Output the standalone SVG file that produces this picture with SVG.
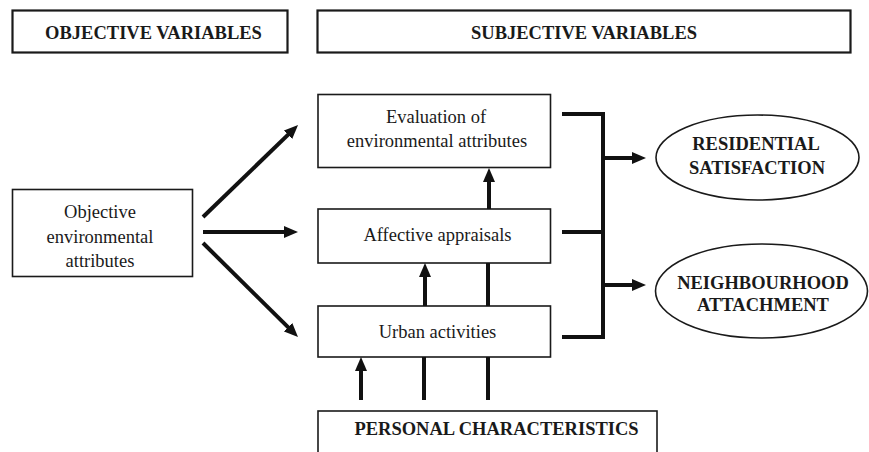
<svg xmlns="http://www.w3.org/2000/svg" width="869" height="452" viewBox="0 0 869 452">
<style>
  .box { fill: #fff; stroke: #1a1a1a; stroke-width: 1.6; }
  .hbox { fill: #fff; stroke: #1a1a1a; stroke-width: 2.2; }
  .t { font-family: "Liberation Serif", "Times New Roman", serif; font-size: 18.5px; fill: #1a1a1a; text-anchor: middle; }
  .b { font-weight: bold; }
  .s { font-size: 17.5px; }
  .c { fill: none; stroke: #111; stroke-width: 4; }
  .a { marker-end: url(#ah); }
</style>
<defs>
  <marker id="ah" markerUnits="userSpaceOnUse" markerWidth="14" markerHeight="12" viewBox="0 0 14 12" refX="6" refY="6" orient="auto">
    <path d="M0,0 L14,6 L0,12 z" fill="#111"/>
  </marker>
</defs>

<g id="objective-variables">
  <rect class="hbox" x="12.5" y="10.5" width="275" height="42"/>
  <text class="t b" x="153.5" y="39">OBJECTIVE VARIABLES</text>
</g>
<g id="subjective-variables">
  <rect class="hbox" x="317.5" y="10.5" width="533" height="42"/>
  <text class="t b" x="584" y="39">SUBJECTIVE VARIABLES</text>
</g>

<g id="objective-attributes">
  <rect class="box" x="12.5" y="189.5" width="180" height="87"/>
  <text class="t" x="100" y="218">Objective</text>
  <text class="t" x="100" y="243">environmental</text>
  <text class="t" x="100" y="267">attributes</text>
</g>

<g id="evaluation">
  <rect class="box" x="318" y="94.5" width="232.5" height="73"/>
  <text class="t" x="436" y="123">Evaluation of</text>
  <text class="t" x="437" y="147">environmental attributes</text>
</g>

<g id="affective">
  <rect class="box" x="318" y="209" width="232.5" height="54"/>
  <text class="t" x="437.5" y="241">Affective appraisals</text>
</g>

<g id="urban">
  <rect class="box" x="318" y="306" width="232.5" height="51"/>
  <text class="t" x="437.5" y="338">Urban activities</text>
</g>

<g id="personal">
  <rect class="box" x="318" y="411" width="339" height="45"/>
  <text class="t b" x="496.5" y="435">PERSONAL CHARACTERISTICS</text>
</g>

<g id="residential-satisfaction">
  <ellipse class="box" cx="757.5" cy="157.5" rx="101.5" ry="42.5"/>
  <text class="t b" x="756" y="150">RESIDENTIAL</text>
  <text class="t b" x="757" y="174">SATISFACTION</text>
</g>

<g id="neighbourhood-attachment">
  <ellipse class="box" cx="761.5" cy="291" rx="106" ry="47"/>
  <text class="t b" x="763" y="289">NEIGHBOURHOOD</text>
  <text class="t b" x="763" y="311">ATTACHMENT</text>
</g>

<g id="connectors">
  <line class="c a" x1="203" y1="217" x2="292.3" y2="130.6"/>
  <line class="c a" x1="203" y1="232" x2="290" y2="232"/>
  <line class="c a" x1="203" y1="243" x2="292.3" y2="331.4"/>

  <line class="c a" x1="489" y1="209" x2="489" y2="176"/>
  <line class="c a" x1="425" y1="306" x2="425" y2="271"/>
  <line class="c" x1="488" y1="306" x2="488" y2="263"/>

  <line class="c a" x1="361" y1="400" x2="361" y2="365"/>
  <line class="c" x1="424" y1="400" x2="424" y2="357"/>
  <line class="c" x1="488" y1="400" x2="488" y2="357"/>

  <path class="c" d="M562,114 H603 V337 H562"/>
  <line class="c" x1="562" y1="232" x2="603" y2="232"/>
  <line class="c a" x1="603" y1="158" x2="638" y2="158"/>
  <line class="c a" x1="603" y1="285" x2="638" y2="285"/>
</g>
</svg>
